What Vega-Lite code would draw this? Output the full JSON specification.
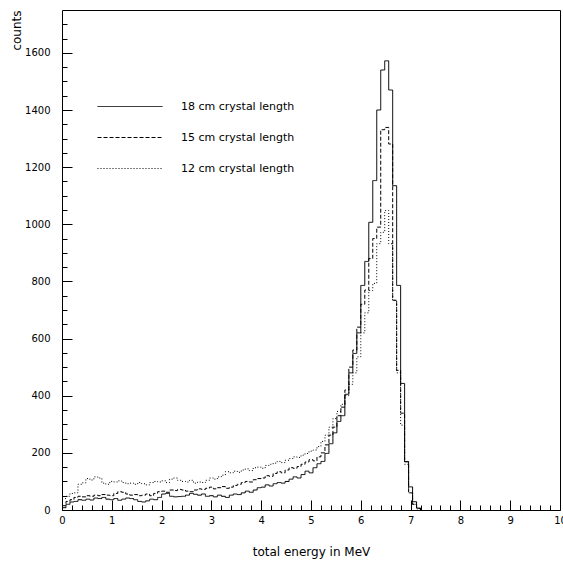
{
  "$schema": "https://vega.github.io/schema/vega-lite/v6.json",
  "width": 498,
  "height": 500,
  "autosize": {"type": "none"},
  "padding": {"left": 62, "top": 10, "right": 3, "bottom": 51},
  "background": "white",
  "config": {
    "view": {"stroke": "black", "strokeWidth": 1},
    "font": "DejaVu Sans",
    "axis": {"grid": false, "domain": false, "labelColor": "black", "titleColor": "black", "tickColor": "black", "labelFont": "DejaVu Sans", "titleFont": "DejaVu Sans", "titleFontWeight": "normal"},
    "legend": {"labelFont": "DejaVu Sans"}
  },
  "datasets": {
    "h": [
      {"E":0,"S":8,"D":15,"T":40},{"E":0.08,"S":20,"D":30,"T":48},{"E":0.16,"S":28,"D":36,"T":58},{"E":0.24,"S":30,"D":44,"T":60},{"E":0.32,"S":36,"D":48,"T":90},{"E":0.4,"S":34,"D":46,"T":95},{"E":0.48,"S":38,"D":50,"T":110},{"E":0.56,"S":35,"D":48,"T":105},{"E":0.64,"S":42,"D":52,"T":116},{"E":0.72,"S":40,"D":50,"T":112},
      {"E":0.8,"S":44,"D":54,"T":94},{"E":0.88,"S":38,"D":52,"T":90},{"E":0.96,"S":36,"D":50,"T":100},{"E":1.04,"S":40,"D":58,"T":98},{"E":1.12,"S":34,"D":64,"T":102},{"E":1.2,"S":38,"D":62,"T":96},{"E":1.28,"S":42,"D":56,"T":92},{"E":1.36,"S":40,"D":52,"T":94},{"E":1.44,"S":36,"D":54,"T":90},{"E":1.52,"S":30,"D":50,"T":96},
      {"E":1.6,"S":28,"D":52,"T":92},{"E":1.68,"S":32,"D":56,"T":88},{"E":1.76,"S":38,"D":50,"T":96},{"E":1.84,"S":36,"D":58,"T":100},{"E":1.92,"S":44,"D":64,"T":98},{"E":2,"S":56,"D":66,"T":102},{"E":2.08,"S":58,"D":62,"T":96},{"E":2.16,"S":48,"D":70,"T":108},{"E":2.24,"S":46,"D":68,"T":112},{"E":2.32,"S":47,"D":72,"T":104},
      {"E":2.4,"S":48,"D":70,"T":100},{"E":2.48,"S":52,"D":66,"T":98},{"E":2.56,"S":58,"D":64,"T":104},{"E":2.64,"S":55,"D":70,"T":94},{"E":2.72,"S":52,"D":74,"T":98},{"E":2.8,"S":56,"D":72,"T":96},{"E":2.88,"S":48,"D":76,"T":104},{"E":2.96,"S":50,"D":80,"T":112},{"E":3.04,"S":46,"D":74,"T":108},{"E":3.12,"S":52,"D":78,"T":116},
      {"E":3.2,"S":48,"D":82,"T":122},{"E":3.28,"S":44,"D":76,"T":134},{"E":3.36,"S":52,"D":80,"T":130},{"E":3.44,"S":56,"D":86,"T":136},{"E":3.52,"S":54,"D":90,"T":132},{"E":3.6,"S":60,"D":96,"T":140},{"E":3.68,"S":66,"D":100,"T":144},{"E":3.76,"S":62,"D":98,"T":138},{"E":3.84,"S":70,"D":106,"T":148},{"E":3.92,"S":78,"D":110,"T":150},
      {"E":4,"S":80,"D":112,"T":146},{"E":4.08,"S":88,"D":120,"T":156},{"E":4.16,"S":84,"D":118,"T":160},{"E":4.24,"S":92,"D":128,"T":164},{"E":4.32,"S":96,"D":134,"T":170},{"E":4.4,"S":94,"D":130,"T":166},{"E":4.48,"S":100,"D":140,"T":174},{"E":4.56,"S":108,"D":148,"T":180},{"E":4.64,"S":116,"D":146,"T":186},{"E":4.72,"S":112,"D":152,"T":184},
      {"E":4.8,"S":124,"D":160,"T":192},{"E":4.88,"S":136,"D":168,"T":198},{"E":4.96,"S":130,"D":176,"T":206},{"E":5.04,"S":148,"D":172,"T":210},{"E":5.12,"S":162,"D":186,"T":222},{"E":5.2,"S":170,"D":200,"T":240},{"E":5.28,"S":198,"D":228,"T":262},{"E":5.36,"S":232,"D":262,"T":290},{"E":5.44,"S":270,"D":290,"T":320},{"E":5.52,"S":310,"D":330,"T":345},
      {"E":5.6,"S":330,"D":360,"T":370},{"E":5.68,"S":405,"D":420,"T":400},{"E":5.76,"S":480,"D":500,"T":440},{"E":5.84,"S":548,"D":560,"T":480},{"E":5.92,"S":620,"D":640,"T":536},{"E":6,"S":786,"D":720,"T":620},{"E":6.08,"S":870,"D":770,"T":690},{"E":6.16,"S":1007,"D":880,"T":768},{"E":6.24,"S":1153,"D":950,"T":793},{"E":6.32,"S":1400,"D":990,"T":932},
      {"E":6.4,"S":1540,"D":1331,"T":972},{"E":6.48,"S":1572,"D":1339,"T":1048},{"E":6.56,"S":1470,"D":1281,"T":932},{"E":6.64,"S":1135,"D":734,"T":734},{"E":6.72,"S":786,"D":489,"T":480},{"E":6.8,"S":443,"D":339,"T":297},{"E":6.88,"S":169,"D":169,"T":160},{"E":6.96,"S":81,"D":60,"T":60},{"E":7.04,"S":29,"D":20,"T":20},{"E":7.12,"S":7,"D":5,"T":4},
      {"E":7.2,"S":0,"D":0,"T":0}
    ]
  },
  "data": {"name": "h"},
  "transform": [
    {"fold": ["S", "D", "T"], "as": ["key", "counts"]},
    {"lookup": "key", "from": {"data": {"values": [{"key":"S","series":"18 cm crystal length"},{"key":"D","series":"15 cm crystal length"},{"key":"T","series":"12 cm crystal length"}]}, "key": "key", "fields": ["series"]}}
  ],
  "layer": [
    {
      "mark": {"type": "line", "interpolate": "step-after", "color": "black", "strokeWidth": 1},
      "encoding": {
        "x": {"field": "E", "type": "quantitative", "scale": {"domain": [0, 10], "nice": false, "zero": false},
          "axis": {"orient": "bottom", "values": [0,1,2,3,4,5,6,7,8,9,10], "ticks": false, "tickSize": 0, "labelPadding": 5, "labelFontSize": 10, "labelFlush": false, "labelOverlap": false, "title": "total energy in MeV", "titleFontSize": 12, "titleY": 41, "titleBaseline": "middle"}},
        "y": {"field": "counts", "type": "quantitative", "scale": {"domain": [0, 1750], "nice": false},
          "axis": {"orient": "left", "values": [0,200,400,600,800,1000,1200,1400,1600], "ticks": false, "tickSize": 0, "labelPadding": 12, "labelFontSize": 10, "format": "d", "labelFlush": false, "labelOverlap": false, "title": "counts", "titleFontSize": 12, "titleAngle": -90, "titleX": -46, "titleY": 0, "titleAlign": "right", "titleBaseline": "middle"}},
        "strokeDash": {"field": "series", "type": "nominal",
          "scale": {"domain": ["18 cm crystal length", "15 cm crystal length", "12 cm crystal length"], "range": [[1, 0], [4, 2], [1, 2]]},
          "legend": {"orient": "none", "legendX": 35, "legendY": 81, "title": null, "symbolType": "stroke", "symbolSize": 4225, "symbolStrokeWidth": 1, "symbolStrokeColor": "black", "rowPadding": 0, "clipHeight": 31, "labelOffset": 18, "labelFontSize": 11, "labelColor": "black", "padding": 0, "offset": 0}}
      }
    },
    {
      "mark": {"type": "point", "opacity": 0, "size": 1},
      "encoding": {
        "x": {"field": "E", "type": "quantitative", "scale": {"domain": [0, 10], "nice": false, "zero": false},
          "axis": {"orient": "bottom", "values": [0,1,2,3,4,5,6,7,8,9,10], "labels": false, "tickSize": -10, "title": null}},
        "y": {"field": "counts", "type": "quantitative", "scale": {"domain": [0, 1750], "nice": false},
          "axis": {"orient": "left", "values": [0,200,400,600,800,1000,1200,1400,1600], "labels": false, "tickSize": -10, "title": null}}
      }
    },
    {
      "mark": {"type": "point", "opacity": 0, "size": 1},
      "encoding": {
        "x": {"field": "E", "type": "quantitative", "scale": {"domain": [0, 10], "nice": false, "zero": false},
          "axis": {"orient": "bottom", "values": [0.2,0.4,0.6,0.8,1.2,1.4,1.6,1.8,2.2,2.4,2.6,2.8,3.2,3.4,3.6,3.8,4.2,4.4,4.6,4.8,5.2,5.4,5.6,5.8,6.2,6.4,6.6,6.8,7.2,7.4,7.6,7.8,8.2,8.4,8.6,8.8,9.2,9.4,9.6,9.8], "labels": false, "tickSize": -5, "title": null}},
        "y": {"field": "counts", "type": "quantitative", "scale": {"domain": [0, 1750], "nice": false},
          "axis": {"orient": "left", "values": [50,100,150,250,300,350,450,500,550,650,700,750,850,900,950,1050,1100,1150,1250,1300,1350,1450,1500,1550,1650,1700], "labels": false, "tickSize": -5, "title": null}}
      }
    }
  ],
  "resolve": {"axis": {"x": "independent", "y": "independent"}}
}
